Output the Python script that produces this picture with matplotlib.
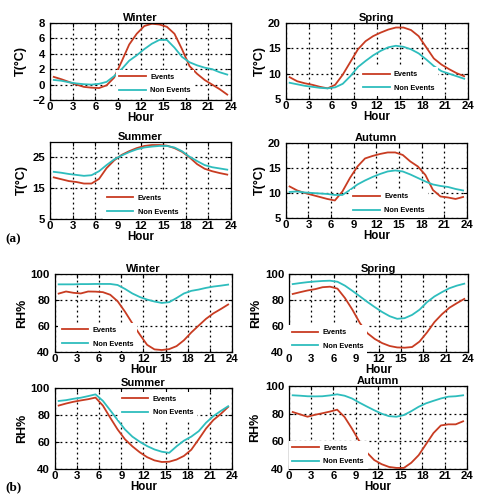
import numpy as np
import matplotlib
matplotlib.use("Agg")
import matplotlib.pyplot as plt

plt.rcParams['font.family'] = ['Liberation Sans', 'DejaVu Sans']
plt.rcParams['font.weight'] = 'bold'

hours = np.arange(0.5, 24, 1.0)
xticks = [0, 3, 6, 9, 12, 15, 18, 21, 24]
seasons = ["Winter", "Spring", "Summer", "Autumn"]

# temperature (deg C), hourly means
t_winter_ev = [1.0, 0.7, 0.35, 0.0, -0.3, -0.4, -0.45, -0.1, 0.9, 3.0, 5.2, 6.6,
               7.6, 7.9, 7.8, 7.5, 6.6, 4.6, 2.4, 1.4, 0.6, 0.0, -0.6, -1.3]
t_winter_non = [0.6, 0.5, 0.3, 0.15, 0.05, 0.0, 0.1, 0.35, 1.1, 2.0, 3.1, 3.8,
                4.6, 5.3, 5.8, 5.8, 4.8, 3.6, 2.9, 2.5, 2.2, 2.0, 1.6, 1.3]
t_spring_ev = [9.3, 8.5, 8.1, 7.8, 7.4, 7.1, 7.8, 9.8, 12.3, 14.8, 16.4, 17.4,
               18.1, 18.7, 19.1, 19.1, 18.6, 17.4, 15.2, 13.0, 11.8, 10.9, 10.1, 9.5]
t_spring_non = [8.2, 7.9, 7.6, 7.4, 7.2, 7.1, 7.3, 8.0, 9.5, 11.3, 12.5, 13.6,
                14.5, 15.2, 15.5, 15.3, 14.8, 14.0, 12.8, 11.5, 10.5, 10.0, 9.5, 9.0]
t_summer_ev = [18.5, 17.9, 17.3, 17.0, 16.5, 16.5, 18.0, 21.5, 24.0, 25.8, 27.0, 28.0,
               28.7, 29.0, 29.0, 28.8, 28.0, 26.8, 25.0, 22.8, 21.3, 20.5, 19.9, 19.4]
t_summer_non = [20.3, 20.0, 19.6, 19.3, 19.0, 19.2, 20.5, 22.5, 24.3, 25.6, 26.7, 27.6,
                28.2, 28.5, 28.7, 28.7, 28.2, 27.0, 25.2, 23.8, 22.5, 21.8, 21.4, 21.0]
t_autumn_ev = [11.3, 10.5, 10.0, 9.6, 9.2, 8.8, 8.5, 10.3, 13.0, 15.3, 16.9, 17.4,
               17.8, 18.1, 18.1, 17.6, 16.3, 15.3, 13.6, 10.6, 9.3, 9.1, 8.8, 9.2]
t_autumn_non = [10.2, 10.3, 10.1, 10.0, 9.9, 9.8, 9.6, 9.6, 10.6, 11.7, 12.5, 13.2,
                13.8, 14.3, 14.5, 14.3, 13.7, 13.0, 12.3, 11.7, 11.4, 11.2, 10.8, 10.5]

# relative humidity (%), hourly means
rh_winter_ev = [84.9, 86.5, 85.5, 85.0, 86.5, 86.4, 86.0, 84.0, 79.0, 71.0, 62.0, 53.5,
                45.5, 42.0, 41.5, 42.2, 44.5, 49.0, 55.0, 60.3, 65.5, 69.7, 73.0, 76.5]
rh_winter_non = [92.0, 92.0, 92.0, 92.2, 92.2, 92.3, 92.3, 92.3, 91.5, 88.5, 85.0, 82.3,
                 80.3, 78.8, 77.7, 78.3, 81.5, 85.0, 87.0, 88.0, 89.3, 90.3, 91.0, 91.8]
rh_spring_ev = [84.6, 86.0, 87.3, 88.3, 89.8, 90.2, 88.7, 81.5, 72.5, 62.3, 54.5, 50.0,
                46.8, 44.6, 43.5, 43.3, 43.8, 48.0, 55.0, 63.0, 69.0, 74.0, 77.5, 80.8]
rh_spring_non = [92.2, 93.0, 93.7, 94.2, 94.6, 94.8, 94.0, 91.0, 87.0, 82.8, 78.5, 74.5,
                 70.7, 67.5, 65.5, 66.0, 68.5, 72.5, 78.3, 82.7, 86.0, 89.0, 91.0, 92.5]
rh_summer_ev = [87.0, 88.5, 89.8, 90.8, 91.7, 92.9, 87.0, 78.0, 69.3, 62.0, 56.8, 52.4,
                48.8, 46.4, 45.2, 45.4, 47.0, 49.7, 54.3, 62.0, 70.0, 76.3, 80.8, 86.0]
rh_summer_non = [90.4, 91.0, 92.0, 92.8, 94.0, 95.3, 90.5, 83.5, 76.3, 69.3, 64.0, 60.2,
                 57.0, 54.5, 52.8, 52.0, 56.8, 61.0, 64.0, 68.0, 74.3, 79.2, 83.0, 86.5]
rh_autumn_ev = [81.2, 79.5, 77.8, 79.2, 80.3, 81.5, 82.9, 77.6, 69.2, 60.0, 52.0, 46.5,
                43.5, 41.5, 40.8, 40.8, 44.5, 50.0, 58.0, 66.0, 71.5, 72.3, 72.3, 74.5]
rh_autumn_non = [93.3, 93.0, 92.6, 92.5, 92.6, 93.2, 94.0, 93.0, 91.0, 88.0, 85.2, 82.5,
                 80.0, 78.2, 77.8, 79.0, 81.8, 85.0, 87.5, 89.3, 91.0, 92.3, 92.6, 93.3]

ev_color = '#c83c22'
non_color = '#2ebdbd'

fig = plt.figure(figsize=(4.78, 4.97), dpi=100)

# (rect, events, non events, ylim, yticks, ylabel, ylabel x, legend center, title)
panels = [
    ([0.1046, 0.7988, 0.3787, 0.155], t_winter_ev, t_winter_non, (-2, 8), [-2, 0, 2, 4, 6, 8],
     "T(°C)", -0.13, (0.58, 0.21), "Winter"),
    ([0.598, 0.8008, 0.381, 0.153], t_spring_ev, t_spring_non, (5, 20), [5, 10, 15, 20],
     "T(°C)", -0.11, (0.62, 0.23), "Spring"),
    ([0.1046, 0.5594, 0.3787, 0.155], t_summer_ev, t_summer_non, (5, 30), [5, 15, 25],
     "T(°C)", -0.12, (0.51, 0.18), "Summer"),
    ([0.598, 0.5614, 0.3787, 0.151], t_autumn_ev, t_autumn_non, (5, 20), [5, 10, 15, 20],
     "T(°C)", -0.11, (0.57, 0.19), "Autumn"),
    ([0.115, 0.2918, 0.370, 0.157], rh_winter_ev, rh_winter_non, (40, 100), [40, 60, 80, 100],
     "RH%", -0.15, (0.24, 0.19), "Winter"),
    ([0.6046, 0.2918, 0.3745, 0.157], rh_spring_ev, rh_spring_non, (40, 100), [40, 60, 80, 100],
     "RH%", -0.15, (0.215, 0.16), "Spring"),
    ([0.115, 0.0563, 0.370, 0.163], rh_summer_ev, rh_summer_non, (40, 100), [40, 60, 80, 100],
     "RH%", -0.15, (0.58, 0.78), "Summer"),
    ([0.6046, 0.0563, 0.372, 0.167], rh_autumn_ev, rh_autumn_non, (40, 100), [40, 60, 80, 100],
     "RH%", -0.155, (0.22, 0.17), "Autumn"),
]

for rect, ev, non, ylim, yticks, ylabel, ylx, legc, title in panels:
    ax = fig.add_axes(rect)
    ax.plot(hours, ev, color=ev_color, lw=1.3, label="Events")
    ax.plot(hours, non, color=non_color, lw=1.3, label="Non Events")
    ax.set_xlim(0, 24)
    ax.set_ylim(*ylim)
    ax.set_xticks(xticks)
    ax.set_yticks(yticks)
    ax.grid(True, linestyle=(0, (1.5, 2.5)), color='black', linewidth=0.9)
    ax.tick_params(direction='in', length=3, labelsize=8.2,
                   top=True, right=True, width=0.8)
    ax.tick_params(axis='x', pad=1.2)
    ax.tick_params(axis='y', pad=3.5)
    for lab in ax.get_xticklabels() + ax.get_yticklabels():
        lab.set_fontweight('bold')
    for sp in ax.spines.values():
        sp.set_linewidth(0.9)
    ax.set_title(title, fontsize=8, fontweight='bold', pad=1.5)
    ax.set_xlabel("Hour", fontsize=8.3, fontweight='bold', labelpad=0)
    ax.set_ylabel(ylabel, fontsize=9, fontweight='bold')
    ax.yaxis.set_label_coords(ylx, 0.5)
    leg = ax.legend(loc='center', bbox_to_anchor=legc, fontsize=5.3,
                    frameon=True, fancybox=False, framealpha=1.0,
                    facecolor='white', edgecolor='none', handlelength=3.6,
                    handletextpad=0.6, labelspacing=0.9, borderpad=0.5,
                    borderaxespad=0)
    leg.set_zorder(5)
    for txt in leg.get_texts():
        txt.set_fontweight('bold')

fig.text(0.012, 0.519, "(a)", family='Liberation Serif', fontsize=9.5,
         fontweight='bold', va='center')
fig.text(0.012, 0.02, "(b)", family='Liberation Serif', fontsize=9.5,
         fontweight='bold', va='center')

fig.savefig("out.png", dpi=100)
